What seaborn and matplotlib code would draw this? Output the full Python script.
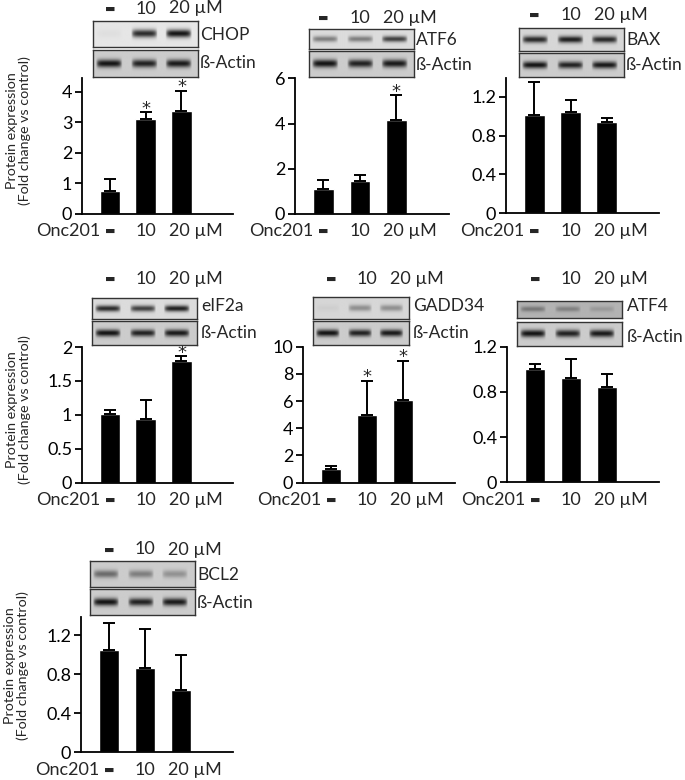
import numpy as np
import pandas as pd
import matplotlib
matplotlib.use("Agg")
import matplotlib.pyplot as plt
import matplotlib.transforms as mtransforms
import seaborn as sns

# Onc201 doses (control, 10 uM, 20 uM)
doses = ["0", "10", "20"]
dose_labels = ["\u25ac", "10", "20 \u00b5M"]

# fold change vs control, mean and upper SD
chop_mean = [0.76, 3.10, 3.37]
chop_sd = [0.40, 0.24, 0.66]
chop_sig = [False, True, True]

atf6_mean = [1.09, 1.44, 4.15]
atf6_sd = [0.40, 0.30, 1.10]
atf6_sig = [False, False, True]

bax_mean = [1.01, 1.045, 0.935]
bax_sd = [0.34, 0.12, 0.05]
bax_sig = [False, False, False]

eif2a_mean = [1.01, 0.935, 1.79]
eif2a_sd = [0.06, 0.285, 0.07]
eif2a_sig = [False, False, True]

gadd34_mean = [0.98, 5.0, 6.1]
gadd34_sd = [0.26, 2.49, 2.85]
gadd34_sig = [False, True, True]

atf4_mean = [1.005, 0.925, 0.845]
atf4_sd = [0.045, 0.17, 0.115]
atf4_sig = [False, False, False]

bcl2_mean = [1.05, 0.86, 0.635]
bcl2_sd = [0.28, 0.40, 0.365]
bcl2_sig = [False, False, False]

# y axis ticks
chop_ticks = [0, 1, 2, 3, 4]
chop_ticklabels = ["0", "1", "2", "3", "4"]
atf6_ticks = [0, 2, 4, 6]
atf6_ticklabels = ["0", "2", "4", "6"]
bax_ticks = [0, 0.4, 0.8, 1.2]
bax_ticklabels = ["0", "0.4", "0.8", "1.2"]
eif2a_ticks = [0, 0.5, 1, 1.5, 2]
eif2a_ticklabels = ["0", "0.5", "1", "1.5", "2"]
gadd34_ticks = [0, 2, 4, 6, 8, 10]
gadd34_ticklabels = ["0", "2", "4", "6", "8", "10"]
atf4_ticks = [0, 0.4, 0.8, 1.2]
atf4_ticklabels = ["0", "0.4", "0.8", "1.2"]
bcl2_ticks = [0, 0.4, 0.8, 1.2]
bcl2_ticklabels = ["0", "0.4", "0.8", "1.2"]

# blot band strength per lane (target protein, beta-actin)
chop_bands = [0.03, 0.85, 0.95]
atf6_bands = [0.45, 0.45, 0.75]
bax_bands = [0.85, 0.9, 0.85]
eif2a_bands = [0.85, 0.75, 0.9]
gadd34_bands = [0.04, 0.35, 0.35]
atf4_bands = [0.35, 0.3, 0.15]
bcl2_bands = [0.5, 0.4, 0.3]
actin_bands = [0.95, 0.88, 0.92]

sns.set_style("ticks")
plt.rcParams["font.family"] = ["Lato", "DejaVu Sans"]

W, H = 685, 780
fig = plt.figure(figsize=(W / 100, H / 100), dpi=100)

TXT = 13


def rect(x0, x1, ytop, ybot):
    return [x0 / W, 1 - ybot / H, (x1 - x0) / W, (ybot - ytop) / H]


def blot_image(levels, bg):
    xs = np.linspace(0, 1, 160)
    ys = np.linspace(0, 1, 40)
    img = np.full((40, 160), bg)
    for c, lev in zip([0.15, 0.485, 0.81], levels):
        px = np.clip(1 - ((xs - c) / 0.125) ** 6, 0, 1)
        py = np.exp(-((ys - 0.5) / 0.15) ** 2)
        img = img - lev * bg * 0.95 * np.outer(py, px)
    return img


def draw_blot(box, top_y, act_y, levels, name, bg_top, label_x, label_y):
    x0, x1 = box
    for (yt, yb), lev, bg in [(top_y, levels, bg_top), (act_y, actin_bands, 0.8)]:
        bax_ = fig.add_axes(rect(x0, x1, yt, yb))
        bax_.imshow(blot_image(lev, bg), cmap="gray", vmin=0, vmax=1,
                    aspect="auto", interpolation="bilinear")
        bax_.set_xticks([])
        bax_.set_yticks([])
        for s in bax_.spines.values():
            s.set_linewidth(1.0)
            s.set_color("#333333")
    fig.text(label_x / W, 1 - label_y[0] / H, name, fontsize=12.5, va="center")
    fig.text(label_x / W, 1 - label_y[1] / H, "\u00df-Actin", fontsize=12.5, va="center")


def draw_bars(pos, means, sds, sig, ylim, ticks, ticklabels, label_row, header_row, ylabel_y):
    ax = fig.add_axes(rect(*pos))
    df = pd.DataFrame({"dose": doses, "value": means})
    sns.barplot(data=df, x="dose", y="value", color="black", saturation=1,
                width=0.57, errorbar=None, ax=ax)
    ax.errorbar(range(3), means, yerr=[np.zeros(3), sds], fmt="none",
                ecolor="black", elinewidth=1.4, capsize=4.5, capthick=1.4)
    for i, s in enumerate(sig):
        if s:
            ax.annotate("*", (i, means[i] + sds[i]), xytext=(0, 2.5),
                        textcoords="offset points", ha="center", va="center",
                        fontsize=13, family="DejaVu Sans", annotation_clip=False)
    ax.set_xlim(-0.78, 3.44)
    ax.set_ylim(*ylim)
    ax.set_yticks(ticks, ticklabels)
    ax.set_xticks([])
    ax.set_xlabel("")
    ax.set_ylabel("")
    sns.despine(ax=ax)
    for s in ax.spines.values():
        s.set_linewidth(1.3)
        s.set_color("black")
    ax.tick_params(axis="y", direction="out", length=5, width=1.3,
                   labelsize=TXT, pad=2, colors="black")
    if ylabel_y is not None:
        ax.set_ylabel("Protein expression\n(Fold change vs control)",
                      fontsize=10.3, linespacing=1.05)
        ax.yaxis.set_label_coords(-0.34, ylabel_y)
    tr = mtransforms.blended_transform_factory(ax.transData, fig.transFigure)
    for yrow, with_name in [(label_row, True), (header_row, False)]:
        yy = 1 - yrow / H
        if with_name:
            ax.text(-0.27, yy, "Onc201", transform=tr, ha="right", va="center",
                    fontsize=TXT, clip_on=False)
        ax.text(0, yy, dose_labels[0], transform=tr, ha="center", va="center",
                fontsize=8, family="DejaVu Sans", clip_on=False)
        ax.text(1, yy, dose_labels[1], transform=tr, ha="center", va="center",
                fontsize=TXT, clip_on=False)
        ax.text(1.64, yy, dose_labels[2], transform=tr, ha="left", va="center",
                fontsize=TXT, clip_on=False)
    return ax


# row 1
draw_bars((82, 233, 77.5, 214), chop_mean, chop_sd, chop_sig, (0, 4.47),
          chop_ticks, chop_ticklabels, 231, 8.5, 0.61)
draw_blot((92.7, 198.3), (20.7, 47.3), (50, 76.7), chop_bands, "CHOP", 0.9, 200, (35, 63.5))

draw_bars((295, 449, 78.3, 214), atf6_mean, atf6_sd, atf6_sig, (0, 6),
          atf6_ticks, atf6_ticklabels, 231, 18.3, None)
draw_blot((309, 414.3), (29.3, 49), (51, 77.3), atf6_bands, "ATF6", 0.86, 416, (40, 65))

draw_bars((506, 659, 78.3, 213.3), bax_mean, bax_sd, bax_sig, (0, 1.39),
          bax_ticks, bax_ticklabels, 231, 15, None)
draw_blot((519, 624.3), (27.7, 50.7), (53.3, 77.3), bax_bands, "BAX", 0.84, 626, (40, 65))

# row 2
draw_bars((82, 233, 347, 482.5), eif2a_mean, eif2a_sd, eif2a_sig, (0, 2),
          eif2a_ticks, eif2a_ticklabels, 500, 279, 0.54)
draw_blot((91.7, 196.7), (298.3, 319), (321, 345), eif2a_bands, "eIF2a", 0.86, 201, (306.5, 333))

draw_bars((303, 455, 346.7, 482.5), gadd34_mean, gadd34_sd, gadd34_sig, (0, 10),
          gadd34_ticks, gadd34_ticklabels, 500, 279, None)
draw_blot((312.7, 409.3), (297.3, 319), (321, 345), gadd34_bands, "GADD34", 0.84, 413, (306.5, 333))

draw_bars((507, 659, 346.7, 482.3), atf4_mean, atf4_sd, atf4_sig, (0, 1.2),
          atf4_ticks, atf4_ticklabels, 500, 279, None)
draw_blot((516.7, 621.7), (301, 318.3), (321.7, 346), atf4_bands, "ATF4", 0.7, 627, (306, 336.5))

# row 3
draw_bars((81, 233, 616.7, 752.3), bcl2_mean, bcl2_sd, bcl2_sig, (0, 1.39),
          bcl2_ticks, bcl2_ticklabels, 770, 549.5, 0.64)
draw_blot((90, 195), (561, 586.7), (589, 615), bcl2_bands, "BCL2", 0.8, 197, (575, 603))

fig.savefig("out.png", dpi=100)
